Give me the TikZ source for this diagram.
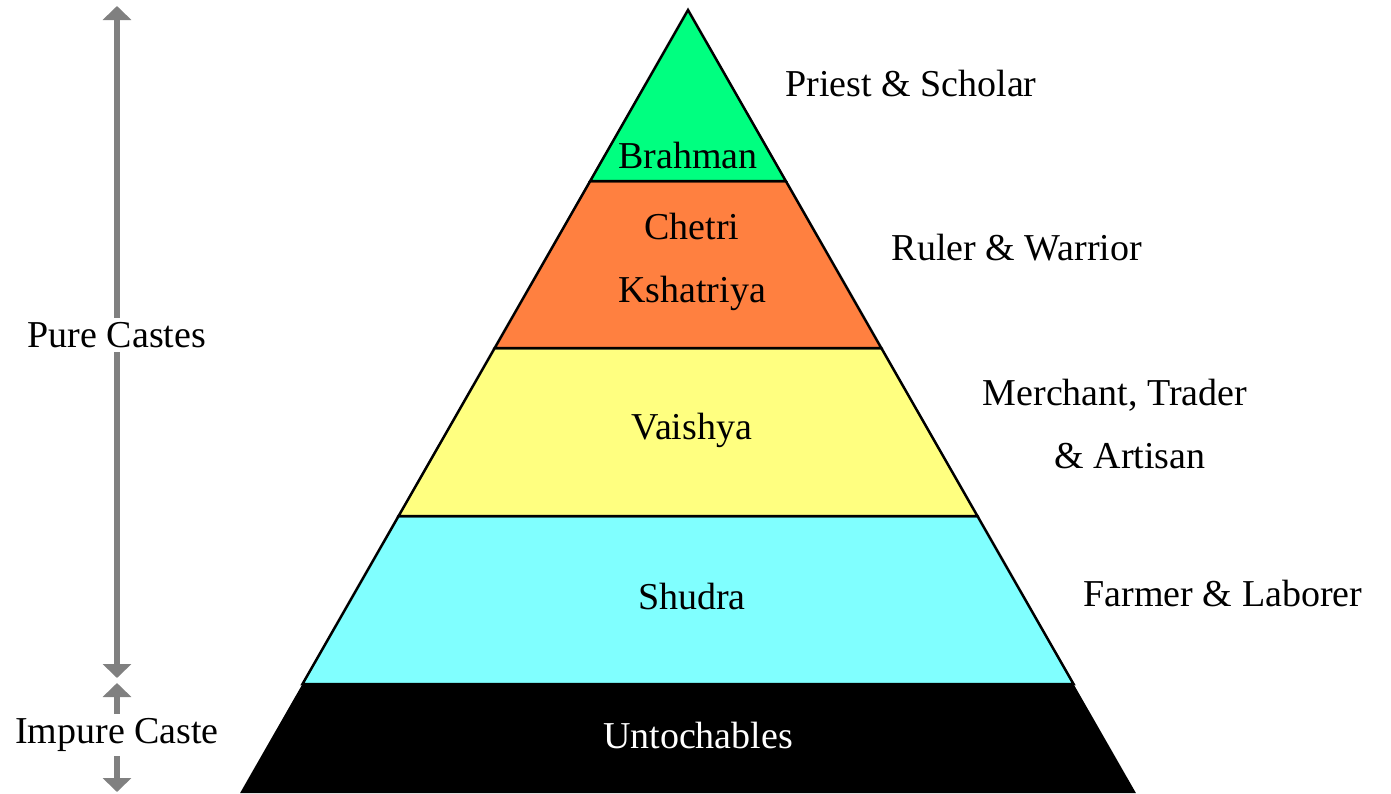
\documentclass[tikz,border=0pt]{standalone}
\usepackage{fontspec}
\setmainfont{Liberation Serif}
\usetikzlibrary{arrows.meta}
\definecolor{cbrah}{RGB}{0,255,128}
\definecolor{cchet}{RGB}{255,128,64}
\definecolor{cvais}{RGB}{255,255,128}
\definecolor{cshud}{RGB}{128,255,255}
\definecolor{carr}{RGB}{128,128,128}
\tikzset{
  tier/.style={draw=black, line width=2.5pt, line join=miter},
  lbl/.style={font=\fontsize{38}{63}\selectfont, align=center, inner sep=0pt},
  sidearrow/.style={draw=carr, line width=6pt, {Triangle[width=28pt,length=14pt]}-{Triangle[width=28pt,length=14pt]}},
  sidelbl/.style={lbl, fill=white, inner sep=4pt}
}
\begin{document}
\begin{tikzpicture}[x=1pt,y=-1pt]
\useasboundingbox (0,0) rectangle (1391,793);
% pyramid corner points
\coordinate (A) at (688,10);
\coordinate (L1) at (590.2,181); \coordinate (R1) at (785.8,181);
\coordinate (L2) at (494.7,348); \coordinate (R2) at (881.3,348);
\coordinate (L3) at (398.6,516); \coordinate (R3) at (977.4,516);
\coordinate (L4) at (302.5,684); \coordinate (R4) at (1073.5,684);
\coordinate (L5) at (240.1,793); \coordinate (R5) at (1135.9,793);
% tiers
\fill[black] (L4) -- (R4) -- (R5) -- (L5) -- cycle;
\filldraw[tier, fill=cshud] (L3) -- (R3) -- (R4) -- (L4) -- cycle;
\filldraw[tier, fill=cvais] (L2) -- (R2) -- (R3) -- (L3) -- cycle;
\filldraw[tier, fill=cchet] (L1) -- (R1) -- (R2) -- (L2) -- cycle;
\filldraw[tier, fill=cbrah] (A) -- (R1) -- (L1) -- cycle;
% tier names
\node[lbl] (brahman) at (688,155) {Brahman};
\node[lbl] (chetri) at (692,262) {Chetri\\Kshatriya};
\node[lbl] (vaishya) at (692,430) {Vaishya};
\node[lbl] (shudra) at (692,596) {Shudra};
\node[lbl, text=white] (untouch) at (698,735) {Untochables};
% roles
\node[lbl] (priest) at (911,83) {Priest \& Scholar};
\node[lbl] (ruler) at (1017,248) {Ruler \& Warrior};
\node[lbl] (merchant) at (1115,424) {Merchant, Trader\\\hspace*{30pt}\& Artisan};
\node[lbl] (farmer) at (1223,593) {Farmer \& Laborer};
% side arrows
\coordinate (p1) at (117,6);
\coordinate (p2) at (117,678);
\coordinate (q1) at (117,683);
\coordinate (q2) at (117,792);
\draw[sidearrow] (p1) -- (p2);
\draw[sidearrow] (q1) -- (q2);
\node[sidelbl] (pure) at (117,335) {Pure Castes};
\node[sidelbl] (impure) at (117,735) {Impure Caste};
\end{tikzpicture}
\end{document}
